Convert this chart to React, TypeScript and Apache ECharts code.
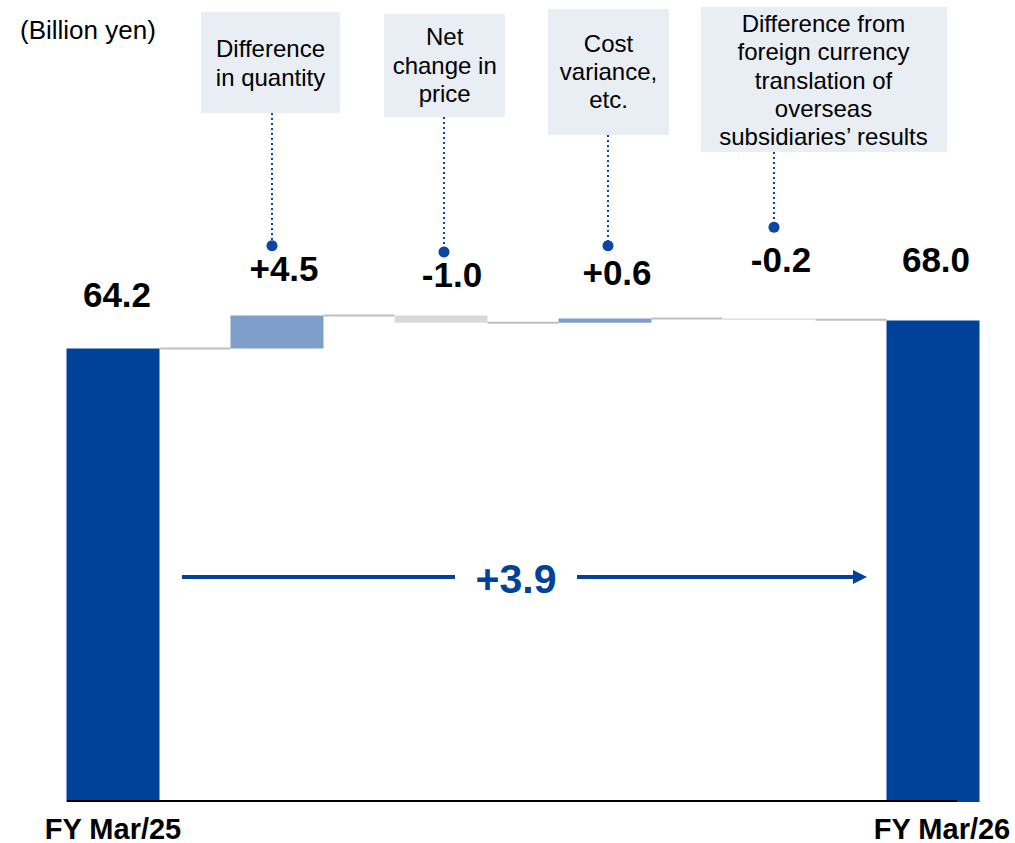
import React, { useEffect, useRef } from 'react';
import * as echarts from 'echarts';

// ---------- data ----------
const categories = [
  'FY Mar/25',
  'Difference in quantity',
  'Net change in price',
  'Cost variance, etc.',
  'Difference from foreign currency translation of overseas subsidiaries’ results',
  'FY Mar/26',
];
const startTotal = 64.2;
const endTotal = 68.0;
const deltas = [4.5, -1.0, 0.6, -0.2];
const deltaLabels = ['+4.5', '-1.0', '+0.6', '-0.2'];
const totalLabels = ['64.2', '68.0'];
const changeLabel = '+3.9';
const unitLabel = '(Billion yen)';
const factorTexts = [
  'Difference\nin quantity',
  'Net\nchange in\nprice',
  'Cost\nvariance,\netc.',
  'Difference from\nforeign currency\ntranslation of\noverseas\nsubsidiaries’ results',
];

// ---------- styles / layout ----------
const DARK = '#00419a';
const POS = '#7f9fcb';
const NEG = '#d9d9d9';
const CONNECTOR = '#bfbfbf';
const BOX = '#e9edf4';
const DOT = '#0b47a1';
const FONT = '"Liberation Sans", Arial, sans-serif';
const BAR_W = 93;
// [dx, distance] for each bar's value label
const labelLayout = [
  [4, 36.5],
  [7, 29],
  [11, 23],
  [12, 28],
  [12, 41],
  [3, 43.3],
];
// boxes: x, y, w, h, text center x, text center y
const boxLayout = [
  [201, 12, 139, 101, 270.5, 63],
  [384, 14, 121, 103, 444.7, 65],
  [548, 9, 121, 126, 608.5, 71.7],
  [701, 7, 246, 145, 823.5, 80],
];
// dotted leader: x, y top, y dot
const leaderLayout = [
  [272, 113, 245.7],
  [444, 117, 252],
  [608, 135, 245.7],
  [774, 152, 227.3],
];

export default function App() {
  const ref = useRef<HTMLDivElement>(null);

  useEffect(() => {
    if (!ref.current) return;
    const chart = echarts.init(ref.current, undefined, { renderer: 'svg' });

    const valueTexts = [totalLabels[0], ...deltaLabels, totalLabels[1]];
    const base: number[] = [];
    const vis: any[] = [];
    const levels: number[] = [];

    const mkLabel = (i: number) => ({
      show: true,
      position: 'top',
      distance: labelLayout[i][1],
      offset: [labelLayout[i][0], 0],
      formatter: () => valueTexts[i],
      color: '#000',
      fontSize: 35,
      lineHeight: 35,
      fontWeight: 'bold',
      fontFamily: FONT,
    });

    let level = startTotal;
    base.push(0);
    vis.push({ value: startTotal, itemStyle: { color: DARK }, label: mkLabel(0) });
    levels.push(level);
    deltas.forEach((d, k) => {
      const next = Math.round((level + d) * 10) / 10;
      base.push(Math.min(level, next));
      vis.push({
        value: Math.abs(d),
        itemStyle: { color: d >= 0 ? POS : NEG },
        label: mkLabel(k + 1),
      });
      level = next;
      levels.push(level);
    });
    base.push(0);
    vis.push({ value: endTotal, itemStyle: { color: DARK }, label: mkLabel(5) });

    const graphics: any[] = [];
    graphics.push({
      type: 'text',
      left: 20,
      top: 17,
      style: { text: unitLabel, fontSize: 26, fontFamily: FONT, fill: '#000' },
    });
    boxLayout.forEach((b, i) => {
      graphics.push({
        type: 'rect',
        shape: { x: b[0], y: b[1], width: b[2], height: b[3] },
        style: { fill: BOX },
        z: 10,
      });
      graphics.push({
        type: 'text',
        x: b[4],
        y: b[5],
        style: {
          text: factorTexts[i],
          align: 'center',
          verticalAlign: 'middle',
          fontSize: 24,
          lineHeight: 28.3,
          fontFamily: FONT,
          fill: '#000',
        },
        z: 11,
      });
    });
    leaderLayout.forEach((l) => {
      graphics.push({
        type: 'line',
        shape: { x1: l[0], y1: l[1], x2: l[0], y2: l[2] },
        style: { stroke: DOT, lineWidth: 2, lineDash: [2, 3] },
        z: 10,
      });
      graphics.push({
        type: 'circle',
        shape: { cx: l[0], cy: l[2], r: 5.5 },
        style: { fill: DOT },
        z: 10,
      });
    });
    // axis base line
    graphics.push({
      type: 'line',
      shape: { x1: 67, y1: 801, x2: 957, y2: 801 },
      style: { stroke: '#000', lineWidth: 2 },
      z: 20,
    });
    // change arrow
    graphics.push({
      type: 'line',
      shape: { x1: 182, y1: 577, x2: 455, y2: 577 },
      style: { stroke: DARK, lineWidth: 4 },
      z: 10,
    });
    graphics.push({
      type: 'line',
      shape: { x1: 577, y1: 577, x2: 856, y2: 577 },
      style: { stroke: DARK, lineWidth: 4 },
      z: 10,
    });
    graphics.push({
      type: 'polygon',
      shape: { points: [[853, 570], [867, 577], [853, 584]] },
      style: { fill: DARK },
      z: 10,
    });
    graphics.push({
      type: 'text',
      x: 516,
      y: 579,
      style: {
        text: changeLabel,
        align: 'center',
        verticalAlign: 'middle',
        fontSize: 41,
        fontWeight: 'bold',
        fontFamily: FONT,
        fill: DARK,
      },
      z: 10,
    });

    chart.setOption({
      animation: false,
      grid: { left: 31, right: 0, top: 289.1, bottom: 38 },
      xAxis: {
        type: 'category',
        data: categories,
        axisLine: { show: false },
        axisTick: { show: false },
        axisLabel: {
          interval: 0,
          margin: 12,
          formatter: (v: string, i: number) =>
            i === 0 ? '{n|' + v + '}' : i === categories.length - 1 ? '{s|' + v + '}' : '',
          rich: {
            n: { fontSize: 29, lineHeight: 29, fontWeight: 'bold', color: '#000', fontFamily: FONT },
            s: {
              fontSize: 29,
              lineHeight: 29,
              fontWeight: 'bold',
              color: '#000',
              fontFamily: FONT,
              padding: [0, 0, 0, 18],
            },
          },
        },
      },
      yAxis: { type: 'value', min: 2.3, max: 72.3, show: false },
      series: [
        {
          type: 'bar',
          stack: 'w',
          barWidth: BAR_W,
          data: base,
          itemStyle: { color: 'transparent' },
          silent: true,
        },
        {
          type: 'bar',
          stack: 'w',
          barWidth: BAR_W,
          data: vis,
          z: 3,
        },
        {
          type: 'custom',
          z: 1,
          data: levels.map((v, i) => [i, v]),
          encode: { x: 0, y: 1 },
          renderItem: (params: any, api: any) => {
            const i = api.value(0);
            const v = api.value(1);
            const p1 = api.coord([i, v]);
            const p2 = api.coord([i + 1, v]);
            return {
              type: 'line',
              shape: { x1: p1[0] + BAR_W / 2, y1: p1[1], x2: p2[0] - BAR_W / 2, y2: p1[1] },
              style: { stroke: CONNECTOR, lineWidth: 2 },
            };
          },
        },
      ],
      graphic: graphics,
    });

    return () => chart.dispose();
  }, []);

  return (
    <div
      ref={ref}
      style={{ position: 'absolute', left: 0, top: 0, width: 1015, height: 843 }}
    />
  );
}
